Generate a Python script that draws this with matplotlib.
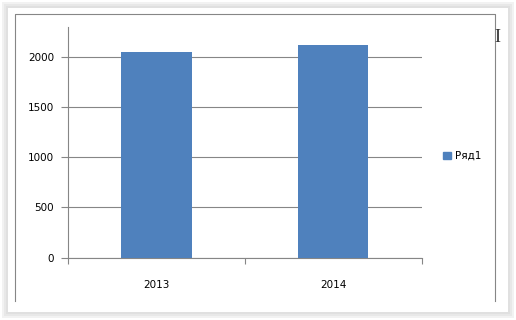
import matplotlib
matplotlib.use("Agg")
import matplotlib.pyplot as plt
from matplotlib.patches import Rectangle
from matplotlib.lines import Line2D

# данные
years = ["2013", "2014"]
values = [2050, 2120]
series_name = "Ряд1"

bar_color = "#4f81bd"
axis_color = "#868686"

fig = plt.figure(figsize=(5.16, 3.2), dpi=100)
fig.patch.set_facecolor("white")

# тень вокруг карточки
W, H = 516.0, 320.0
for i, a in enumerate([0.03, 0.03, 0.04, 0.05]):
    d = 8 - 2 * i
    fig.patches.append(Rectangle((d / W, d / H), (W - 2 * d) / W, (H - 2 * d) / H,
                                 transform=fig.transFigure, facecolor="black", alpha=a,
                                 edgecolor="none", zorder=-5))
fig.patches.append(Rectangle((8 / W, 8 / H), (W - 16) / W, (H - 16) / H,
                             transform=fig.transFigure, facecolor="white",
                             edgecolor="none", zorder=-4))
# рамка области диаграммы (левый, верхний, правый край)
fx0, fx1 = 14.5 / W, 494.5 / W
fy0, fy1 = 1 - 301 / H, 1 - 13.5 / H
fig.lines.append(Line2D([fx0, fx0, fx1, fx1], [fy0, fy1, fy1, fy0],
                        transform=fig.transFigure, color=axis_color, lw=0.8, zorder=-3))
# курсор
fig.text(497 / W, 1 - 38 / H, "I", fontsize=13, color="#333333",
         ha="center", va="center", family="Liberation Serif")

ax = fig.add_axes([68 / W, 1 - 257.5 / H, (421.5 - 68) / W, (257.5 - 27) / H])
ax.set_facecolor("none")
ax.set_zorder(5)

x = list(range(len(years)))
ax.bar(x, values, width=0.4, color=bar_color, zorder=3)

ax.set_xlim(-0.5, len(years) - 0.5)
ax.set_ylim(0, 2300)
ax.set_yticks([0, 500, 1000, 1500, 2000])
ax.yaxis.grid(True, color=axis_color, lw=0.8, zorder=0)
ax.set_axisbelow(True)

ax.set_xticks(x)
ax.set_xticklabels(years)
ax.set_xticks([-0.5, 0.5, 1.5], minor=True)
ax.tick_params(axis="x", which="major", length=0, pad=16, labelsize=7.5)
ax.tick_params(axis="x", which="minor", length=4, width=0.8, color=axis_color, direction="out")
ax.tick_params(axis="y", length=5, width=0.8, color=axis_color, direction="out", pad=5, labelsize=7.5)

for side in ["top", "right"]:
    ax.spines[side].set_visible(False)
for side in ["left", "bottom"]:
    ax.spines[side].set_color(axis_color)
    ax.spines[side].set_linewidth(0.8)

ax.legend([Rectangle((0, 0), 1, 1, color=bar_color)], [series_name],
          loc="center left", bbox_to_anchor=(1.035, 0.44), frameon=False,
          fontsize=7.5, handlelength=0.7, handleheight=0.7, handletextpad=0.4)

plt.savefig("out.png", dpi=100)
